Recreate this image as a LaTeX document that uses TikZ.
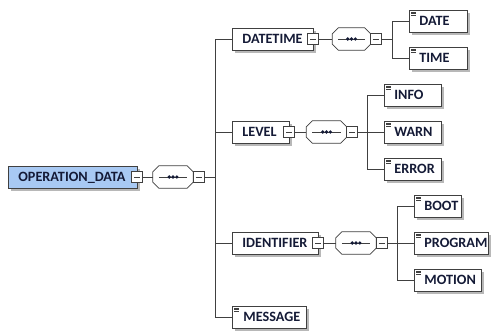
\documentclass[tikz,border=0pt]{standalone}
\usepackage{fontspec}
\setmainfont{Carlito}
\usetikzlibrary{shadows}
\definecolor{lineclr}{HTML}{404040}
\definecolor{rootblue}{HTML}{A8C9F3}
\definecolor{txtclr}{HTML}{141A36}
\tikzset{
  conn/.style={draw=lineclr, line width=0.8pt},
  elembox/.style={draw=lineclr, line width=0.8pt, fill=white, anchor=west,
    minimum height=22pt, inner sep=0pt, text height=9pt, text depth=0pt,
    font=\fontsize{14.2}{16}\selectfont\bfseries, text=txtclr,
    drop shadow={shadow xshift=3pt, shadow yshift=-3pt, fill=black, opacity=0.28}},
  rootbox/.style={fill=rootblue},
  leafline/.style={draw=lineclr, line width=0.5pt},
  btnbox/.style={draw=lineclr, line width=0.7pt, fill=white, minimum size=11pt, inner sep=0pt},
  seqarea/.style={minimum width=#1pt, minimum height=22pt, inner sep=0pt},
  seqline/.style={draw=lineclr, line width=0.8pt, fill=white},
}
% element box: name, position, width, left padding, label, extra options
\newcommand\elemnode[6]{%
  \node[elembox,#6] (#1) at (#2) {\makebox[#3pt][l]{\hspace*{#4pt}#5}};}
% little "simple content" mark in the top left corner of a leaf element
\newcommand\leafmark[1]{%
  \foreach \d in {2.5,4,5.5}{\draw[leafline] ([xshift=2pt,yshift=-\d pt]#1.north west) -- ++(4.5,0);}}
% collapse button with a minus sign
\newcommand\btnnode[2]{%
  \node[btnbox] (#1) at (#2) {};
  \draw[draw=lineclr, line width=0.7pt] ([xshift=-3pt]#1.center) -- ([xshift=3pt]#1.center);}
% sequence compositor: octagon with a line and three dots
\newcommand\seqnode[3]{%
  \node[seqarea=#3] (#1) at (#2) {};
  \draw[seqline] ([xshift=6pt]#1.north west) -- ([xshift=-6pt]#1.north east)
    -- ([yshift=-6pt]#1.north east) -- ([yshift=6pt]#1.south east)
    -- ([xshift=-6pt]#1.south east) -- ([xshift=6pt]#1.south west)
    -- ([yshift=6pt]#1.south west) -- ([yshift=-6pt]#1.north west) -- cycle;
  \draw[draw=lineclr, line width=0.9pt] ([xshift=6pt]#1.west) -- ([xshift=-6pt]#1.east);
  \foreach \dx in {-3.8,0,3.8}{\fill[txtclr] ([xshift=\dx pt]#1.center) circle (1.8pt);}}

\begin{document}
\begin{tikzpicture}[x=1pt,y=-1pt]
\fill[white] (0,0) rectangle (493,331);
\useasboundingbox (0,0) rectangle (493,331);

% root element and its sequence
\elemnode{root}{8,177}{129}{10}{OPERATION\_DATA}{rootbox}
\btnnode{b0}{137,177}
\seqnode{s0}{173,177}{40}
\btnnode{sb0}{198.5,177}
\coordinate (spine) at (215,177);
\draw[conn] (b0.east) -- (s0.west);
\draw[conn] (sb0.east) -- (spine);

% children of the root sequence
\elemnode{datetime}{232,39}{81}{10}{DATETIME}{}
\elemnode{level}{232,132}{57}{10}{LEVEL}{}
\elemnode{identifier}{232,243}{86}{10}{IDENTIFIER}{}
\elemnode{message}{232,317}{74}{11}{MESSAGE}{}
\leafmark{message}
\foreach \n in {datetime,level,identifier,message}{\draw[conn] (spine) |- (\n.west);}

% DATETIME
\btnnode{b1}{313,39}
\seqnode{s1}{351.5,39}{38}
\btnnode{sb1}{375.5,39}
\coordinate (c1) at (392,39);
\draw[conn] (b1.east) -- (s1.west);
\draw[conn] (sb1.east) -- (c1);
\elemnode{date}{409,21}{58}{10}{DATE}{}
\elemnode{time}{409,58}{58}{10}{TIME}{}
\foreach \n in {date,time}{\draw[conn] (c1) |- (\n.west); \leafmark{\n}}

% LEVEL
\btnnode{b2}{289,132}
\seqnode{s2}{326.5,132}{40}
\btnnode{sb2}{352,132}
\coordinate (c2) at (367,132);
\draw[conn] (b2.east) -- (s2.west);
\draw[conn] (sb2.east) -- (c2);
\elemnode{info}{384,95}{57}{10}{INFO}{}
\elemnode{warn}{384,132}{57}{10}{WARN}{}
\elemnode{error}{384,169}{57}{10}{ERROR}{}
\foreach \n in {info,warn,error}{\draw[conn] (c2) |- (\n.west); \leafmark{\n}}

% IDENTIFIER
\btnnode{b3}{318,243}
\seqnode{s3}{356,243}{40}
\btnnode{sb3}{381.5,243}
\coordinate (c3) at (397,243);
\draw[conn] (b3.east) -- (s3.west);
\draw[conn] (sb3.east) -- (c3);
\elemnode{boot}{414,206}{47}{10}{BOOT}{}
\elemnode{program}{414,243}{74}{10}{PROGRAM}{}
\elemnode{motion}{414,280}{67}{10}{MOTION}{}
\foreach \n in {boot,program,motion}{\draw[conn] (c3) |- (\n.west); \leafmark{\n}}
\end{tikzpicture}
\end{document}
